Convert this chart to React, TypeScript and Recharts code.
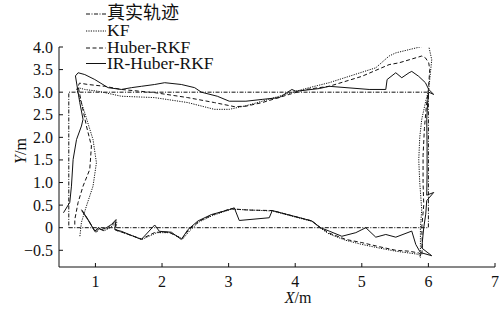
import React from "react";
import { LineChart, Line, XAxis, YAxis, Legend, Label } from "recharts";

// planned rectangle and the three estimated tracks, as [x, y] in metres
const trueTrack: [number, number][] = [
  [0.6, 0], [6.0, 0], [6.0, 3.0], [0.6, 3.0], [0.6, 0]
];

const kfTrack: [number, number][] = [
  [0.8, 0.36], [0.9, 0.14], [0.97, -0.03], [1.01, -0.11], [1.06, -0.03], [1.13, -0.07],
  [1.22, 0.0], [1.32, 0.12], [1.31, -0.06], [1.42, -0.11], [1.7, -0.26], [1.92, -0.11],
  [2.12, -0.11], [2.31, -0.25], [2.42, -0.06], [2.56, 0.13], [2.76, 0.27], [3.04, 0.41],
  [3.35, 0.39], [3.655, 0.37], [4.25, 0.14], [4.38, -0.01], [4.51, -0.14], [4.76, -0.28],
  [5.0, -0.37], [5.26, -0.45], [5.51, -0.52], [5.71, -0.56], [5.855, -0.59], [5.88, -0.66],
  [5.88, -0.4], [5.88, 0.0], [5.9, 0.4], [5.87, 1.0], [5.855, 1.5], [5.87, 2.0], [5.9, 2.4],
  [5.96, 2.8], [6.005, 3.06], [6.05, 3.72], [6.005, 4.02], [5.955, 4.03], [5.51, 3.87],
  [5.41, 3.8], [5.21, 3.54], [4.51, 3.21], [4.21, 3.1], [4.01, 3.02], [3.76, 2.91],
  [3.505, 2.8], [3.26, 2.7], [3.01, 2.62], [2.786, 2.62], [2.386, 2.77], [1.888, 2.88],
  [1.389, 2.91], [1.139, 2.99], [1.04, 3.02], [0.84, 3.06], [0.74, 3.1], [0.716, 3.08],
  [0.84, 2.54], [0.964, 1.95], [1.015, 1.44], [0.964, 0.92], [0.865, 0.48], [0.79, 0.12],
  [0.765, -0.21]
];

const huberTrack: [number, number][] = [
  [0.8, 0.38], [0.9, 0.15], [0.97, -0.02], [1.0, -0.1], [1.05, -0.02], [1.12, -0.06],
  [1.2, 0.0], [1.3, 0.14], [1.3, -0.05], [1.4, -0.1], [1.69, -0.25], [1.9, -0.1],
  [2.1, -0.1], [2.3, -0.24], [2.4, -0.05], [2.55, 0.14], [2.75, 0.28], [3.03, 0.42],
  [3.3, 0.39], [3.655, 0.38], [4.25, 0.15], [4.38, 0.0], [4.51, -0.12], [4.76, -0.26],
  [5.0, -0.33], [5.26, -0.42], [5.51, -0.5], [5.71, -0.52], [5.855, -0.56], [5.9, -0.62],
  [5.91, -0.4], [5.9, 0.0], [5.93, 0.5], [5.92, 1.0], [5.92, 1.6], [5.94, 2.2], [5.97, 2.7],
  [6.0, 3.06], [6.02, 3.5], [6.005, 3.65], [5.955, 3.76], [5.9, 3.8], [5.56, 3.65],
  [5.41, 3.61], [5.0, 3.35], [4.51, 3.13], [4.16, 3.06], [3.91, 2.95], [3.505, 2.77],
  [3.26, 2.69], [3.085, 2.68], [2.786, 2.77], [2.386, 2.88], [1.888, 2.99], [1.389, 3.06],
  [1.139, 3.13], [0.889, 3.17], [0.76, 3.2], [0.74, 3.13], [0.79, 2.77], [0.865, 2.25],
  [0.94, 1.81], [0.915, 1.29], [0.814, 0.92], [0.74, 0.56], [0.69, 0.18], [0.69, 0.03]
];

const irHuberTrack: [number, number][] = [
  [0.79, 0.4], [0.89, 0.18], [0.96, 0.0], [0.99, -0.08], [1.04, 0.0], [1.09, -0.04],
  [1.165, 0.0], [1.24, 0.07], [1.31, 0.18], [1.29, -0.04], [1.39, -0.08], [1.69, -0.26],
  [1.89, 0.06], [1.96, -0.08], [2.14, -0.1], [2.29, -0.26], [2.39, -0.04], [2.54, 0.15],
  [2.74, 0.29], [3.01, 0.4], [3.085, 0.44], [3.16, 0.16], [3.61, 0.22], [3.655, 0.38],
  [4.25, 0.15], [4.38, 0.0], [4.51, -0.075], [4.7, -0.19], [4.91, -0.11], [5.06, 0.0],
  [5.21, -0.21], [5.36, -0.15], [5.51, -0.21], [5.75, -0.075], [5.81, -0.37], [5.88, -0.55],
  [6.05, -0.62], [5.9, -0.45], [5.93, 0.0], [5.96, 0.3], [5.975, 0.6], [6.08, 0.78],
  [5.975, 0.72], [5.98, 1.2], [5.98, 1.8], [5.975, 2.4], [5.99, 2.8], [6.005, 3.0],
  [6.08, 2.95], [6.005, 3.06], [5.955, 3.21], [5.855, 3.35], [5.75, 3.46], [5.71, 3.43],
  [5.6, 3.32], [5.51, 3.43], [5.38, 3.28], [5.36, 3.06], [5.11, 3.06], [4.51, 3.13],
  [4.36, 3.08], [4.01, 3.02], [3.95, 3.06], [3.76, 2.88], [3.505, 2.84], [3.26, 2.8],
  [3.01, 2.8], [2.83, 2.91], [2.59, 3.0], [2.49, 3.1], [2.29, 3.17], [2.04, 3.21],
  [1.89, 3.17], [1.69, 3.13], [1.54, 3.1], [1.39, 3.06], [1.19, 3.1], [0.99, 3.28],
  [0.84, 3.39], [0.74, 3.43], [0.7, 3.36], [0.765, 2.77], [0.814, 2.4], [0.79, 2.25],
  [0.716, 1.95], [0.665, 1.51], [0.64, 0.92], [0.615, 0.56], [0.52, 0.33]
];

const xTicks = [1, 2, 3, 4, 5, 6, 7];
const yTicks = [-0.5, 0, 0.5, 1, 1.5, 2, 2.5, 3, 3.5, 4];

const series = [
  { name: "真实轨迹", pts: trueTrack, dash: "4 1.5 1 1.5" },
  { name: "KF", pts: kfTrack, dash: "1.2 1.2" },
  { name: "Huber-RKF", pts: huberTrack, dash: "4 2.5" },
  { name: "IR-Huber-RKF", pts: irHuberTrack, dash: undefined }
];

const serif = { fontFamily: "'Liberation Serif', 'Times New Roman', serif" };
const cjk = { fontFamily: "'Noto Sans CJK SC', sans-serif" };
const INK = "#111";

const toRows = (pts: [number, number][]) => pts.map(([x, y]) => ({ x, y }));

function XTick({ x, y, payload }: any) {
  return (
    <g>
      <line x1={x} y1={y} x2={x} y2={y - 4} stroke={INK} />
      <text x={x} y={y + 20} textAnchor="middle" style={serif} fontSize={16} fill={INK}>
        {payload.value}
      </text>
    </g>
  );
}

function YTick({ x, y, payload }: any) {
  const v = payload.value as number;
  const s = v === 0 ? "0" : v < 0 ? "\u2212" + Math.abs(v).toFixed(1) : v.toFixed(1);
  return (
    <g>
      <line x1={x} y1={y} x2={x + 4} y2={y} stroke={INK} />
      <text x={x - 6} y={y + 5.5} textAnchor="end" style={serif} fontSize={16} fill={INK}>
        {s}
      </text>
    </g>
  );
}

const legendY = [19, 36, 53, 68.5];

function LegendBox() {
  return (
    <svg width={260} height={76} style={{ display: "block" }}>
      {series.map((s, i) => (
        <g key={s.name}>
          <line x1={86} x2={106} y1={legendY[i] - 5} y2={legendY[i] - 5} stroke={INK} strokeDasharray={s.dash} />
          <text x={107} y={legendY[i]} style={i === 0 ? cjk : serif} fontSize={i === 0 ? 18 : 17.5} fill={INK}>
            {s.name}
          </text>
        </g>
      ))}
    </svg>
  );
}

export default function App() {
  return (
    <div style={{ position: "absolute", left: 0, top: 0, width: 499, height: 315, background: "#fff" }}>
      <LineChart width={499} height={315} margin={{ top: 47, right: 4, bottom: 0, left: 0 }}>
        <XAxis
          type="number"
          dataKey="x"
          domain={[0.453, 7]}
          ticks={xTicks}
          interval={0}
          allowDataOverflow
          height={48}
          tickSize={0}
          tickMargin={0}
          tickLine={false}
          axisLine={{ stroke: INK }}
          tick={<XTick />}
        >
          <Label
            content={() => (
              <text x={298} y={303} textAnchor="middle" style={serif} fontSize={16} fill={INK}>
                <tspan fontStyle="italic">X</tspan>/m
              </text>
            )}
          />
        </XAxis>
        <YAxis
          type="number"
          domain={[-0.87, 4]}
          ticks={yTicks}
          interval={0}
          allowDataOverflow
          width={59}
          tickSize={0}
          tickMargin={0}
          tickLine={false}
          axisLine={{ stroke: INK }}
          tick={<YTick />}
        >
          <Label
            content={() => (
              <text x={26} y={151} transform="rotate(-90 26 151)" textAnchor="middle" style={serif} fontSize={16} fill={INK}>
                <tspan fontStyle="italic">Y</tspan>/m
              </text>
            )}
          />
        </YAxis>
        <Legend
          layout="vertical"
          align="center"
          verticalAlign="middle"
          wrapperStyle={{ top: 0, left: 0, width: 260 }}
          content={() => <LegendBox />}
        />
        {series.map((s) => (
          <Line
            key={s.name}
            name={s.name}
            data={toRows(s.pts)}
            dataKey="y"
            type="linear"
            stroke={INK}
            strokeWidth={1}
            strokeDasharray={s.dash}
            dot={false}
            activeDot={false}
            isAnimationActive={false}
          />
        ))}
      </LineChart>
    </div>
  );
}
